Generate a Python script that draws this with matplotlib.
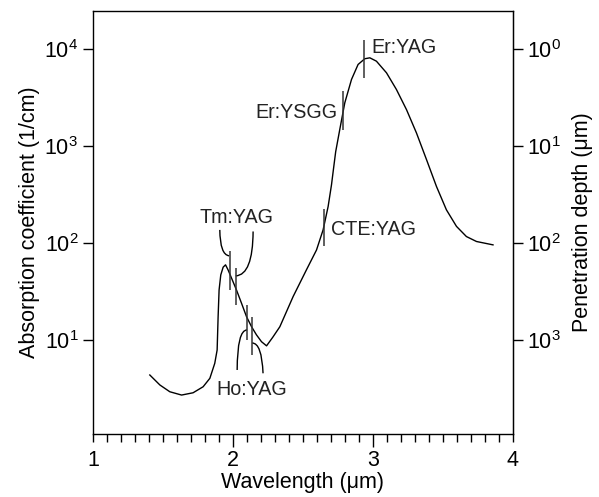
import matplotlib
matplotlib.use("Agg")
import matplotlib.pyplot as plt
from matplotlib.path import Path
from matplotlib.patches import PathPatch
from matplotlib.ticker import FixedLocator, LogFormatterMathtext, NullLocator

plt.rcParams["font.family"] = ["Liberation Sans", "DejaVu Sans"]
plt.rcParams["mathtext.fontset"] = "custom"
plt.rcParams["mathtext.rm"] = "Liberation Sans"
plt.rcParams["mathtext.it"] = "Liberation Sans:italic"

# water absorption curve
wavelength = [1.407, 1.479, 1.550, 1.634, 1.716, 1.788, 1.836, 1.871, 1.888, 1.895,
              1.902, 1.914, 1.931, 1.948, 1.966, 1.991, 2.026, 2.062, 2.098, 2.134,
              2.169, 2.205, 2.241, 2.286, 2.336, 2.431, 2.526, 2.598, 2.645, 2.681,
              2.705, 2.719, 2.735, 2.764, 2.800, 2.848, 2.895, 2.943, 2.979, 3.026, 3.098,
              3.169, 3.241, 3.312, 3.384, 3.455, 3.526, 3.598, 3.669, 3.741, 3.859]
absorption = [4.35, 3.43, 2.92, 2.70, 2.85, 3.29, 4.02, 5.74, 7.88, 17.4,
              32.9, 47.0, 56.5, 59.7, 53.0, 43.5, 32.9, 24.0, 17.4, 13.7,
              11.3, 9.6, 8.7, 10.7, 13.7, 28.1, 53, 85, 137, 239,
              400, 580, 880, 1486, 2810, 4900, 7000, 8020, 8200, 7570, 5740,
              3860, 2390, 1375, 728, 385, 221, 149, 117, 104, 96]

# laser marker lines: wavelength, bottom, top (1/cm)
marker_x = [1.979, 2.021, 2.102, 2.138, 2.65, 2.79, 2.94]
marker_lo = [32.9, 23.0, 10.0, 7.0, 93, 1480, 5130]
marker_hi = [82.0, 55.2, 23.0, 17.4, 224, 3720, 12600]

# label text and anchor positions
labels = ["Tm:YAG", "Ho:YAG", "CTE:YAG", "Er:YSGG", "Er:YAG"]
label_x = [2.026, 2.134, 2.705, 2.745, 2.991]
label_y = [182, 3.09, 137, 2213, 10400]
label_ha = ["center", "center", "left", "right", "left"]

# bracket curves (start, control, end) for Tm:YAG and Ho:YAG
bracket_x = [(1.907, 1.909, 1.974), (2.145, 2.143, 2.021),
             (2.031, 2.032, 2.102), (2.216, 2.207, 2.138)]
bracket_y = [(137, 75.7, 74.0), (132, 47.0, 45.9),
             (4.90, 12.7, 12.7), (4.53, 9.31, 9.31)]

fig = plt.figure(figsize=(5.99, 4.97), dpi=100)
ax = fig.add_axes([0.155, 0.1268, 0.701, 0.8512])

ax.plot(wavelength, absorption, color="black", lw=1.0)
ax.vlines(marker_x, marker_lo, marker_hi, color="#333333", lw=1.1)

for bx, by in zip(bracket_x, bracket_y):
    path = Path(list(zip(bx, by)), [Path.MOVETO, Path.CURVE3, Path.CURVE3])
    ax.add_patch(PathPatch(path, fill=False, color="black", lw=1.0))

for t, x, y, ha in zip(labels, label_x, label_y, label_ha):
    ax.text(x, y, t, ha=ha, va="center", fontsize=14.2, color="#222222")

ax.set_yscale("log")
ax.set_xlim(1, 4)
ax.set_ylim(1.07, 2.5e4)

ax.xaxis.set_major_locator(FixedLocator([1, 2, 3, 4]))
ax.xaxis.set_minor_locator(FixedLocator([1 + i / 10 for i in range(31)]))
ax.set_xticklabels(["1", "2", "3", "4"])
ax.yaxis.set_major_locator(FixedLocator([10, 100, 1000, 10000]))
ax.yaxis.set_major_formatter(LogFormatterMathtext())
ax.yaxis.set_minor_locator(NullLocator())

ax.tick_params(axis="x", which="major", direction="out", length=9.5, width=1, labelsize=15.5, pad=2)
ax.tick_params(axis="x", which="minor", direction="out", length=5.8, width=1)
ax.tick_params(axis="y", which="major", direction="out", length=7.5, width=1, labelsize=15.5, pad=3)
for t in (ax.xaxis.get_major_ticks()[0], ax.xaxis.get_major_ticks()[-1]):
    t.tick1line.set_markersize(5.8)

for s in ax.spines.values():
    s.set_linewidth(1.0)

ax.set_xlabel("Wavelength (μm)", fontsize=15.5, labelpad=1)
ax.set_ylabel("Absorption coefficient (1/cm)", fontsize=15.5, labelpad=3)

# penetration depth in um = 1e4 / absorption coefficient in 1/cm
conv = lambda a: 1e4 / a
sec = ax.secondary_yaxis("right", functions=(conv, conv))
sec.yaxis.set_major_locator(FixedLocator([1, 10, 100, 1000]))
sec.yaxis.set_major_formatter(LogFormatterMathtext())
sec.yaxis.set_minor_locator(NullLocator())
sec.tick_params(axis="y", which="major", direction="out", length=7.5, width=1, labelsize=15.5, pad=3)
sec.set_ylabel("Penetration depth (μm)", fontsize=15.5, labelpad=8)

fig.savefig("out.png", dpi=100)
